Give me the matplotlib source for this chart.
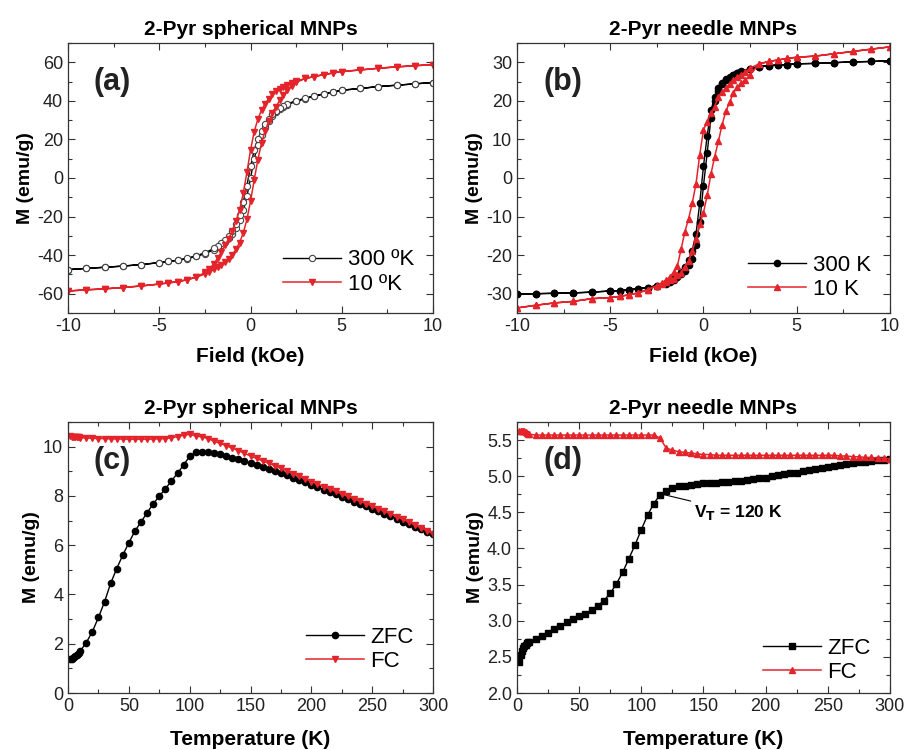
import numpy as np
import matplotlib
matplotlib.use('Agg')
import matplotlib.pyplot as plt
from matplotlib.ticker import MultipleLocator, FormatStrFormatter

plt.rcParams['font.family'] = ['Liberation Sans', 'DejaVu Sans']
plt.rcParams['font.size'] = 12
plt.rcParams['axes.unicode_minus'] = False

RED = '#e3242b'

# (a) 2-Pyr spherical, hysteresis
a_f = [-10, -9, -8, -7, -6, -5, -4.5, -4, -3.5, -3, -2.5, -2, -1.8, -1.6, -1.4, -1.2, -1.0,
       -0.8, -0.6, -0.4, -0.2, 0, 0.2, 0.4, 0.6, 0.8, 1.0, 1.2, 1.4, 1.6, 1.8, 2, 2.5, 3,
       3.5, 4, 4.5, 5, 6, 7, 8, 9, 10]
a300_up = [-47.5, -46.9, -46.3, -45.7, -44.9, -43.9, -43.3, -42.7, -41.9, -40.7, -39.3, -37.2,
           -36.0, -34.7, -33.0, -31.2, -28.8, -25.8, -22.0, -16.8, -9.5, 0, 10, 17, 22.5, 26.5,
           29.5, 32, 34, 35.8, 37, 38, 39.7, 41.2, 42.4, 43.5, 44.5, 45.5, 46.4, 47.4, 48.1,
           48.8, 49.5]
a300_down = [-47.5, -46.9, -46.3, -45.7, -44.9, -43.9, -43.3, -42.6, -41.7, -40.4, -38.8, -36.5,
             -35.2, -33.8, -32.0, -30.0, -27.3, -23.8, -19.0, -12.5, -4.0, 6.0, 14.5, 20.0, 24.5,
             28.0, 30.8, 33.0, 34.8, 36.4, 37.5, 38.5, 40.0, 41.4, 42.6, 43.6, 44.6, 45.5, 46.4,
             47.4, 48.1, 48.8, 49.5]

a10_f = [-10, -9, -8, -7, -6, -5, -4.5, -4, -3.5, -3, -2.5, -2.25, -2, -1.8, -1.6, -1.4, -1.2,
         -1.0, -0.8, -0.6, -0.4, -0.2, 0, 0.2, 0.4, 0.6, 0.8, 1.0, 1.2, 1.4, 1.6, 1.8, 2, 2.25,
         2.5, 3, 3.5, 4, 4.5, 5, 6, 7, 8, 9, 10]
a10_down = [-58.6, -58.0, -57.5, -56.8, -56.0, -55.0, -54.4, -53.8, -52.8, -51.5, -49.0, -47.0,
            -44.5, -41.5, -38.5, -35.0, -31.5, -27.5, -22.5, -16.5, -8.0, 3.0, 14.5, 24.0, 30.5,
            35.2, 38.5, 41.2, 43.3, 45.0, 46.2, 47.2, 48.2, 49.2, 50.2, 51.6, 52.6, 53.6, 54.4,
            55.2, 56.0, 56.9, 57.6, 58.2, 58.8]
a10_up = [-58.6, -58.0, -57.5, -56.8, -56.0, -55.0, -54.4, -53.8, -52.8, -51.5, -49.8, -48.6,
          -47.4, -46.2, -45.0, -43.6, -41.8, -39.8, -37.0, -33.5, -28.5, -21.5, -12.0, -1.0, 9.5,
          18.0, 24.5, 29.5, 33.5, 37.0, 40.3, 43.0, 45.5, 47.8, 49.6, 51.6, 52.6, 53.6, 54.4,
          55.2, 56.0, 56.9, 57.6, 58.2, 58.8]

# (b) 2-Pyr needle, hysteresis
b300_up = [-30.1, -30.0, -29.9, -29.8, -29.6, -29.3, -29.2, -29.0, -28.7, -28.4, -27.9, -27.4,
           -26.9, -26.4, -25.8, -25.0, -24.0, -22.6, -21.0, -17.5, -11.5, -2.0, 6.5, 15.5, 20.0,
           22.5, 24.3, 25.3, 26.0, 26.6, 27.1, 27.6, 28.3, 28.9, 29.1, 29.3, 29.4, 29.6, 29.7,
           29.9, 30.1, 30.2, 30.4]
b300_down = [-30.1, -30.0, -29.9, -29.8, -29.6, -29.3, -29.2, -29.0, -28.7, -28.4, -27.9, -27.2,
             -26.6, -26.0, -25.3, -24.3, -23.0, -21.2, -19.0, -14.5, -6.5, 3.0, 11.0, 17.5, 21.0,
             23.2, 24.6, 25.6, 26.2, 26.8, 27.2, 27.7, 28.3, 28.9, 29.1, 29.3, 29.4, 29.6, 29.7,
             29.9, 30.1, 30.2, 30.4]
b10_down = [-33.7, -33.0, -32.4, -32.0, -31.3, -31.0, -30.7, -30.3, -29.8, -29.0, -27.9, -27.2,
            -26.5, -25.6, -24.5, -22.8, -18.5, -14.0, -10.6, -6.5, -1.5, 6.0, 12.5, 14.5, 16.8,
            18.5, 21.0, 22.3, 23.3, 24.4, 25.5, 26.1, 26.8, 27.4, 28.5, 29.6, 30.2, 30.6, 31.0,
            31.3, 31.6, 32.2, 32.8, 33.4, 34.0]
b10_up = [-33.7, -33.0, -32.4, -32.0, -31.3, -31.0, -30.7, -30.3, -29.8, -29.0, -28.0, -27.5,
          -27.0, -26.5, -26.1, -25.2, -24.6, -23.0, -21.5, -19.0, -15.8, -12.0, -9.0, -4.5, 1.0,
          5.5, 9.5, 13.8, 17.3, 19.6, 22.0, 23.5, 24.5, 25.4, 26.8, 29.6, 30.2, 30.6, 31.0, 31.3,
          31.6, 32.2, 32.8, 33.4, 34.0]

# (c) 2-Pyr spherical, ZFC / FC
T = [2, 3, 4, 5, 6, 7, 8, 9, 10] + list(range(15, 301, 5))
c_zfc = [1.38, 1.40, 1.43, 1.46, 1.50, 1.54, 1.59, 1.64, 1.70,
         2.05, 2.49, 3.07, 3.70, 4.45, 5.05, 5.60, 6.10, 6.58, 6.94, 7.32, 7.68, 7.99, 8.29,
         8.61, 8.92, 9.26, 9.61, 9.77, 9.80, 9.78, 9.75, 9.69, 9.62, 9.55, 9.48, 9.40, 9.33,
         9.25, 9.17, 9.09, 9.00, 8.92, 8.83, 8.74, 8.64, 8.55, 8.45, 8.35, 8.26, 8.16, 8.07,
         7.97, 7.87, 7.77, 7.67, 7.58, 7.48, 7.38, 7.27, 7.17, 7.07, 6.96, 6.86, 6.75, 6.65,
         6.54, 6.44]
c_fc = [10.42, 10.41, 10.40, 10.40, 10.39, 10.39, 10.38, 10.38, 10.37,
        10.35, 10.34, 10.33, 10.33, 10.32, 10.31, 10.31, 10.30, 10.30, 10.30, 10.30, 10.31,
        10.32, 10.33, 10.36, 10.41, 10.46, 10.50, 10.43, 10.40, 10.33, 10.22, 10.13, 10.04,
        9.94, 9.84, 9.73, 9.62, 9.52, 9.42, 9.32, 9.22, 9.12, 9.02, 8.91, 8.80, 8.69, 8.58,
        8.48, 8.38, 8.28, 8.18, 8.08, 7.98, 7.88, 7.78, 7.69, 7.59, 7.48, 7.38, 7.27, 7.16,
        7.05, 6.94, 6.82, 6.71, 6.59, 6.47]

# (d) 2-Pyr needle, ZFC / FC
d_zfc = [2.43, 2.52, 2.58, 2.62, 2.65, 2.67, 2.69, 2.70, 2.71,
         2.75, 2.79, 2.83, 2.88, 2.93, 2.98, 3.02, 3.06, 3.10, 3.15, 3.21, 3.28, 3.38, 3.51,
         3.67, 3.86, 4.05, 4.26, 4.46, 4.62, 4.74, 4.80, 4.84, 4.86, 4.87, 4.88, 4.89, 4.90,
         4.91, 4.91, 4.92, 4.92, 4.93, 4.94, 4.95, 4.96, 4.97, 4.98, 5.00, 5.01, 5.03, 5.04,
         5.05, 5.07, 5.08, 5.10, 5.11, 5.13, 5.14, 5.16, 5.17, 5.18, 5.19, 5.20, 5.21, 5.22,
         5.23, 5.24]
d_fc = [5.62, 5.62, 5.62, 5.62, 5.62, 5.61, 5.60, 5.59, 5.58,
        5.57, 5.57, 5.57, 5.57, 5.57, 5.57, 5.57, 5.57, 5.57, 5.57, 5.57, 5.57, 5.57, 5.57,
        5.57, 5.57, 5.57, 5.57, 5.57, 5.57, 5.53, 5.39, 5.36, 5.34, 5.33, 5.32, 5.31, 5.30,
        5.30, 5.29, 5.29, 5.29, 5.29, 5.29, 5.29, 5.29, 5.29, 5.29, 5.29, 5.29, 5.29, 5.29,
        5.29, 5.29, 5.29, 5.29, 5.29, 5.29, 5.29, 5.28, 5.28, 5.27, 5.27, 5.26, 5.26, 5.25,
        5.25, 5.24]

fig = plt.figure(figsize=(9.06, 7.5), dpi=100)
ax_a = fig.add_axes([0.0751, 0.5827, 0.4029, 0.36])
ax_b = fig.add_axes([0.5706, 0.5827, 0.4117, 0.36])
ax_c = fig.add_axes([0.0751, 0.076, 0.4029, 0.3613])
ax_d = fig.add_axes([0.5706, 0.076, 0.4117, 0.3613])


def style(ax, title, xlabel, label, xmaj, xmin, ymaj, ymin, xpad):
    ax.set_title(title, fontsize=15, fontweight='bold', pad=6)
    ax.set_xlabel(xlabel, fontsize=15, fontweight='bold', labelpad=xpad)
    ax.set_ylabel('M (emu/g)', fontsize=14, fontweight='bold', labelpad=2)
    ax.xaxis.set_major_locator(MultipleLocator(xmaj))
    ax.xaxis.set_minor_locator(MultipleLocator(xmin))
    ax.yaxis.set_major_locator(MultipleLocator(ymaj))
    ax.yaxis.set_minor_locator(MultipleLocator(ymin))
    ax.tick_params(which='both', direction='in', top=True, right=True, width=0.8,
                   labelsize=13, color='#333333', labelcolor='#222222')
    ax.tick_params(which='major', length=5)
    ax.tick_params(which='minor', length=3)
    for s in ax.spines.values():
        s.set_linewidth(0.9)
        s.set_color('#333333')
    ax.text(0.07, 0.855, label, transform=ax.transAxes, fontsize=22, fontweight='bold',
            ha='left', va='center', color='#222222')


def legend(ax, y):
    ax.legend(loc='lower right', frameon=False, fontsize=16, handlelength=2.6,
              handletextpad=0.3, labelspacing=0.15, borderaxespad=0.3,
              bbox_to_anchor=(0.99, y))


# (a)
f300 = a_f + a_f[::-1]
ax_a.plot(f300, a300_up + a300_down[::-1], color='black', lw=1, marker='o', ms=4.5,
          mfc='white', mec='#444444', mew=0.8, label='300 ºK')
f10 = a10_f[::-1] + a10_f
ax_a.plot(f10, a10_down[::-1] + a10_up, color=RED, lw=1.1, marker='v', ms=5,
          mfc=RED, mec=RED, label='10 ºK')
ax_a.set_xlim(-10, 10)
ax_a.set_ylim(-70, 70)
style(ax_a, '2-Pyr spherical MNPs', 'Field (kOe)', '(a)', 5, 2.5, 20, 10, 9)
legend(ax_a, 0.01)

# (b)
ax_b.plot(f300, b300_up + b300_down[::-1], color='black', lw=1, marker='o', ms=4.5,
          mfc='black', mec='black', label='300 K')
ax_b.plot(f10, b10_down[::-1] + b10_up, color=RED, lw=1.1, marker='^', ms=5,
          mfc=RED, mec=RED, label='10 K')
ax_b.set_xlim(-10, 10)
ax_b.set_ylim(-35, 35)
style(ax_b, '2-Pyr needle MNPs', 'Field (kOe)', '(b)', 5, 2.5, 10, 5, 9)
legend(ax_b, -0.01)

# (c)
ax_c.plot(T, c_zfc, color='black', lw=1, marker='o', ms=4.5, label='ZFC')
ax_c.plot(T, c_fc, color=RED, lw=1.1, marker='v', ms=5, label='FC')
ax_c.set_xlim(0, 300)
ax_c.set_ylim(0, 11)
style(ax_c, '2-Pyr spherical MNPs', 'Temperature (K)', '(c)', 50, 25, 2, 1, 11)
legend(ax_c, 0.02)

# (d)
ax_d.plot(T, d_zfc, color='black', lw=1, marker='s', ms=4, label='ZFC')
ax_d.plot(T, d_fc, color=RED, lw=1.1, marker='^', ms=5, label='FC')
ax_d.set_xlim(0, 300)
ax_d.set_ylim(2.0, 5.75)
style(ax_d, '2-Pyr needle MNPs', 'Temperature (K)', '(d)', 50, 25, 0.5, 0.25, 11)
ax_d.yaxis.set_major_formatter(FormatStrFormatter('%.1f'))
legend(ax_d, -0.02)
ax_d.annotate(r'V$_\mathbf{T}$ = 120 K', xy=(117, 4.75), xytext=(142, 4.5),
              fontsize=12.5, fontweight='bold', va='center', ha='left',
              arrowprops=dict(arrowstyle='-', color='black', lw=0.8, shrinkA=0, shrinkB=0))

fig.savefig('out.png', dpi=100)
